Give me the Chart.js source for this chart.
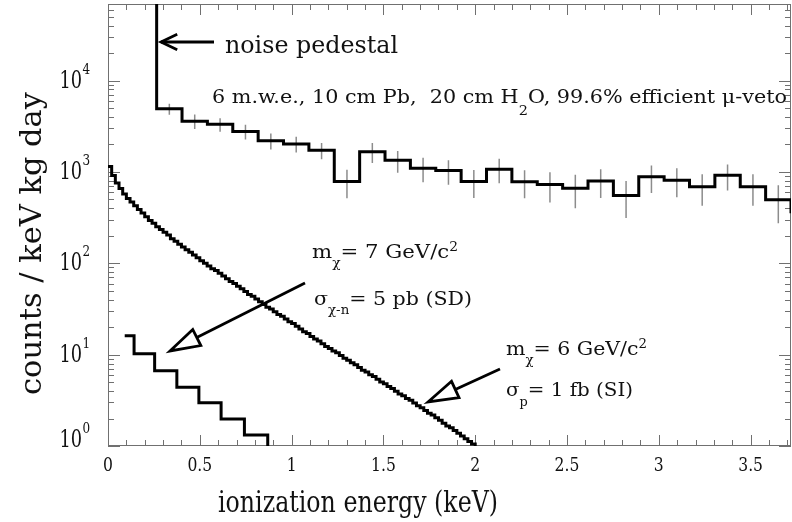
<!DOCTYPE html>
<html><head><meta charset="utf-8">
<script src="https://cdn.jsdelivr.net/npm/chart.js@4/dist/chart.umd.min.js"></script>
<style>html,body{margin:0;padding:0;background:#fff;}canvas{display:block;}</style>
</head><body>
<canvas id="c" width="792" height="522"></canvas>
<script>
// ---------- data ----------
// measured background: 0.138 keV bins starting at the noise pedestal
const bgStart = 0.265;
const bgWidth = 0.1382;
const bgValues = [4910, 3600, 3320, 2770, 2200, 2030, 1730, 785, 1660, 1340,
                  1100, 1036, 785, 1073, 780, 728, 665, 795, 554, 884,
                  813, 687, 918, 687, 495, 366];
const bgErrors = [690, 650, 560, 510, 440, 400, 350, 270, 410, 360,
                  330, 310, 265, 320, 265, 265, 265, 275, 240, 295,
                  285, 260, 290, 260, 220, 160];
const pedestalTop = 1e6;

// WIMP m = 6 GeV/c^2, sigma_p = 1 fb (SI): fine 0.02 keV steps
const siStart = 0;
const siWidth = 0.02;
const siValues = [1148, 912, 759, 661, 575, 513, 468, 427, 389, 355,
  324, 295, 275, 251, 234, 219, 204, 186, 174, 162,
  151, 141, 132, 123, 115, 107, 100, 93.3, 87.1, 83.2,
  77.6, 72.4, 67.6, 63.1, 60.3, 56.2, 52.5, 49.0, 45.7, 43.7,
  40.7, 38.0, 35.5, 33.1, 31.6, 29.5, 27.5, 26.3, 24.5, 22.9,
  21.9, 20.4, 19.1, 17.8, 17.0, 15.8, 14.8, 14.1, 13.2, 12.3,
  11.7, 11.0, 10.5, 9.77, 9.12, 8.71, 8.13, 7.76, 7.24, 6.76,
  6.46, 6.03, 5.75, 5.37, 5.01, 4.79, 4.47, 4.27, 3.98, 3.72,
  3.55, 3.31, 3.16, 2.95, 2.75, 2.63, 2.45, 2.29, 2.19, 2.04,
  1.91, 1.78, 1.66, 1.58, 1.48, 1.38, 1.29, 1.20, 1.12, 1.05];

// WIMP m = 7 GeV/c^2, sigma = 5 pb (SD): coarse steps
const sdEdges = [0.091, 0.142, 0.254, 0.375, 0.495, 0.616, 0.743, 0.870];
const sdValues = [16.1, 10.2, 6.68, 4.40, 2.98, 1.98, 1.32];

const xTickValues = [0, 0.5, 1, 1.5, 2, 2.5, 3, 3.5];
const xTickLabels = ['0', '0.5', '1', '1.5', '2', '2.5', '3', '3.5'];
const yTickExps = [0, 1, 2, 3, 4];
const X_MIN = 0, X_MAX = 3.72, Y_MIN = 1, Y_MAX = 69000;

// ---------- helpers ----------
function stepPoints(edges, values, startY, endY) {
  const pts = [];
  if (startY != null) pts.push({x: edges[0], y: startY});
  for (let i = 0; i < values.length; i++) {
    pts.push({x: edges[i], y: values[i]});
    pts.push({x: edges[i + 1], y: values[i]});
  }
  if (endY != null) pts.push({x: edges[values.length], y: endY});
  return pts;
}
const bgEdges = bgValues.map((v, i) => bgStart + i * bgWidth).concat([bgStart + bgValues.length * bgWidth]);
const siEdges = siValues.map((v, i) => siStart + i * siWidth).concat([siStart + siValues.length * siWidth]);

const bgPts = stepPoints(bgEdges, bgValues, pedestalTop, null);
const siPts = stepPoints(siEdges, siValues, null, 0.3);
const sdPts = stepPoints(sdEdges, sdValues, null, 0.3);
const errPts = [];
bgValues.forEach((v, i) => {
  const c = bgStart + (i + 0.5) * bgWidth;
  errPts.push({x: c, y: v - bgErrors[i]}, {x: c, y: v + bgErrors[i]}, {x: c, y: null});
});

const FAMILY = '"DejaVu Serif", "Liberation Serif", serif';
const INK = '#111';
function runSize(r, size) { return (r.sub || r.sup) ? size * (r.scale || 0.65) : size; }
function richWidth(ctx, runs, size) {
  let w = 0;
  runs.forEach(r => { ctx.font = runSize(r, size) + 'px ' + FAMILY; w += ctx.measureText(r.t).width; });
  return w;
}
// draws runs with left edge x, baseline y; font size `size`, squeezed horizontally to targetW
function drawRich(ctx, runs, x, y, targetW, size) {
  const sx = targetW / richWidth(ctx, runs, size);
  ctx.save();
  ctx.translate(x, y);
  ctx.scale(sx, 1);
  ctx.fillStyle = INK;
  ctx.textAlign = 'left';
  ctx.textBaseline = 'alphabetic';
  let cx = 0;
  runs.forEach(r => {
    const s = runSize(r, size);
    ctx.font = s + 'px ' + FAMILY;
    let dy = 0;
    if (r.sub) dy = size * (r.dy || 0.55);
    if (r.sup) dy = -size * (r.dy || 0.4);
    ctx.fillText(r.t, cx, dy);
    cx += ctx.measureText(r.t).width;
  });
  ctx.restore();
}
function textSq(ctx, t, x, y, size, sx, align) {
  ctx.save();
  ctx.translate(x, y);
  ctx.scale(sx, 1);
  ctx.font = size + 'px ' + FAMILY;
  ctx.fillStyle = INK;
  ctx.textAlign = align;
  ctx.textBaseline = 'alphabetic';
  ctx.fillText(t, 0, 0);
  ctx.restore();
}
function arrowOpen(ctx, x1, y1, x2, y2) {
  ctx.beginPath(); ctx.moveTo(x1, y1); ctx.lineTo(x2, y2); ctx.stroke();
  const a = Math.atan2(y2 - y1, x2 - x1), L = 18, W = 0.45;
  ctx.beginPath();
  ctx.moveTo(x2 - L * Math.cos(a - W), y2 - L * Math.sin(a - W));
  ctx.lineTo(x2, y2);
  ctx.lineTo(x2 - L * Math.cos(a + W), y2 - L * Math.sin(a + W));
  ctx.stroke();
}
function arrowHollow(ctx, x1, y1, x2, y2) {
  const a = Math.atan2(y2 - y1, x2 - x1), L = 30, H = 9;
  const bx = x2 - L * Math.cos(a), by = y2 - L * Math.sin(a);
  ctx.beginPath(); ctx.moveTo(x1, y1); ctx.lineTo(bx, by); ctx.stroke();
  const px = -Math.sin(a) * H, py = Math.cos(a) * H;
  ctx.beginPath();
  ctx.moveTo(x2, y2);
  ctx.lineTo(bx + px, by + py);
  ctx.lineTo(bx - px, by - py);
  ctx.closePath();
  ctx.fillStyle = '#fff'; ctx.fill(); ctx.stroke();
}

const framePlugin = {
  id: 'frame',
  beforeDatasetsDraw(chart) {
    const {ctx, chartArea: a, scales: {x, y}} = chart;
    ctx.save();
    ctx.strokeStyle = '#707070';
    ctx.lineWidth = 1;
    ctx.strokeRect(a.left + 0.5, a.top + 0.5, a.right - a.left - 1, a.bottom - a.top - 1);
    ctx.beginPath();
    for (let k = 0; k <= 37; k++) {
      const v = k / 10;
      if (v > X_MAX) break;
      const px = Math.round(x.getPixelForValue(v)) + 0.5;
      const len = (k % 5 === 0) ? 11 : 6;
      ctx.moveTo(px, a.bottom); ctx.lineTo(px, a.bottom - len);
      ctx.moveTo(px, a.top); ctx.lineTo(px, a.top + len);
    }
    for (let e = 0; e <= 4; e++) {
      for (let d = 1; d <= 9; d++) {
        const v = d * Math.pow(10, e);
        if (v > Y_MAX) break;
        const py = Math.round(y.getPixelForValue(v)) + 0.5;
        const len = d === 1 ? 12 : 6;
        ctx.moveTo(a.left, py); ctx.lineTo(a.left + len, py);
        ctx.moveTo(a.right, py); ctx.lineTo(a.right - len, py);
      }
    }
    ctx.stroke();
    ctx.restore();
  },
  afterDatasetsDraw(chart) {
    const {ctx, chartArea: a, scales: {x, y}} = chart;
    ctx.save();
    // x tick labels
    xTickValues.forEach((v, i) => textSq(ctx, xTickLabels[i], x.getPixelForValue(v), 471, 19, 0.82, 'center'));
    // y tick labels 10^n
    yTickExps.forEach(e => {
      const py = y.getPixelForValue(Math.pow(10, e));
      const base = Math.min(py + 7, a.bottom + 1);
      textSq(ctx, '10', 82, base, 24, 0.74, 'right');
      textSq(ctx, String(e), 82.5, base - 14, 15, 0.8, 'left');
    });
    // axis titles
    drawRich(ctx, [{t: 'ionization energy (keV)'}], 218, 512, 280, 30);
    ctx.save();
    ctx.translate(41, 395);
    ctx.rotate(-Math.PI / 2);
    drawRich(ctx, [{t: 'counts / keV kg day'}], 0, 0, 303, 29);
    ctx.restore();
    // annotations
    drawRich(ctx, [{t: 'noise pedestal'}], 225, 53, 173, 23.7);
    drawRich(ctx, [{t: '6 m.w.e., 10 cm Pb,  20 cm H'}, {t: '2', sub: true, scale: 0.7, dy: 0.6}, {t: 'O, 99.6% efficient \u03bc-veto'}], 212, 103, 575, 19.2);
    drawRich(ctx, [{t: 'm'}, {t: '\u03c7', sub: true, dy: 0.5}, {t: '= 7 GeV/c'}, {t: '2', sup: true}], 312, 258, 146, 18.4);
    drawRich(ctx, [{t: '\u03c3'}, {t: '\u03c7-n', sub: true, dy: 0.5}, {t: '= 5 pb (SD)'}], 314, 305, 158, 18.4);
    drawRich(ctx, [{t: 'm'}, {t: '\u03c7', sub: true, dy: 0.5}, {t: '= 6 GeV/c'}, {t: '2', sup: true}], 506, 355, 141, 18.4);
    drawRich(ctx, [{t: '\u03c3'}, {t: 'p', sub: true, dy: 0.55}, {t: '= 1 fb (SI)'}], 506, 396, 127, 18.4);
    ctx.strokeStyle = '#000';
    ctx.lineWidth = 2.8;
    ctx.lineJoin = 'miter';
    arrowOpen(ctx, 214, 42, 161, 42);
    arrowHollow(ctx, 305, 283, 170, 351);
    arrowHollow(ctx, 500, 369, 428, 402);
    ctx.restore();
  }
};

new Chart(document.getElementById('c').getContext('2d'), {
  type: 'scatter',
  data: {datasets: [
    {data: bgPts, showLine: true, borderColor: '#000', borderWidth: 3, pointRadius: 0, order: 1, clip: 0},
    {data: siPts, showLine: true, borderColor: '#000', borderWidth: 3, pointRadius: 0, order: 2, clip: 0},
    {data: sdPts, showLine: true, borderColor: '#000', borderWidth: 3, pointRadius: 0, order: 3, clip: 0},
    {data: errPts, showLine: true, borderColor: '#8c8c8c', borderWidth: 1.5, pointRadius: 0, spanGaps: false, order: 5, clip: 0}
  ]},
  options: {
    responsive: false, animation: false, devicePixelRatio: 1,
    layout: {padding: {top: 4, right: 1, left: 0, bottom: 0}},
    plugins: {legend: {display: false}, tooltip: {enabled: false}},
    elements: {line: {tension: 0, borderJoinStyle: 'miter', borderCapStyle: 'butt'}},
    scales: {
      x: {type: 'linear', min: X_MIN, max: X_MAX, ticks: {display: false}, grid: {display: false}, border: {display: false},
          afterFit(s) { s.height = 76; }},
      y: {type: 'logarithmic', min: Y_MIN, max: Y_MAX, ticks: {display: false}, grid: {display: false}, border: {display: false},
          afterFit(s) { s.width = 108; }}
    }
  },
  plugins: [framePlugin]
});
</script>
</body></html>
